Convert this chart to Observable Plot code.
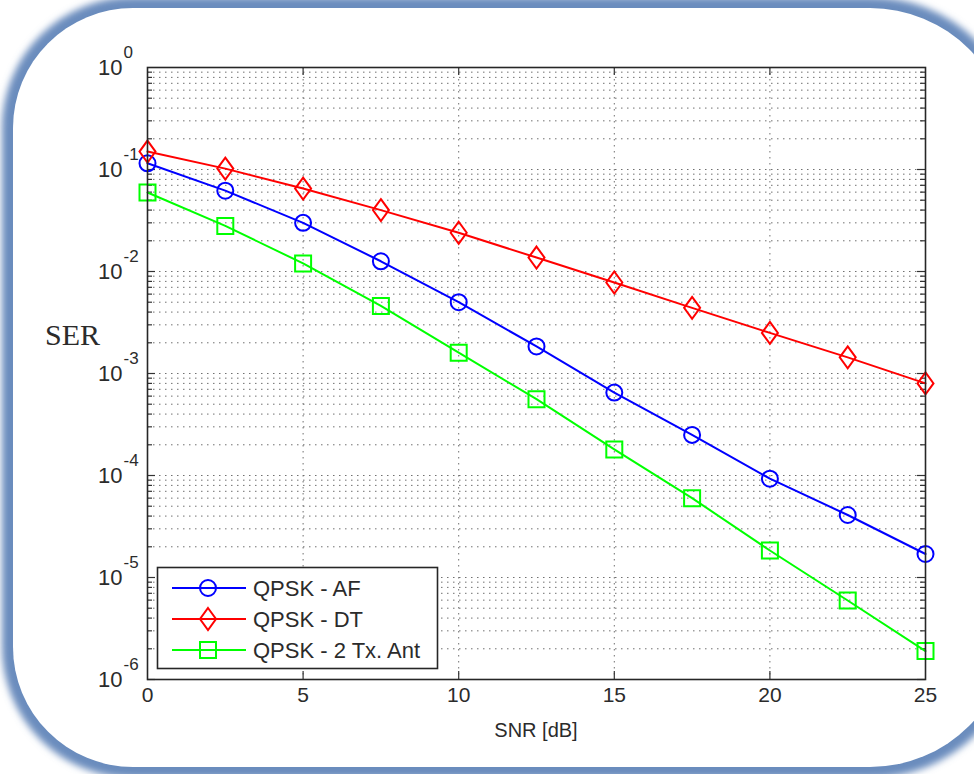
<!DOCTYPE html>
<html>
<head>
<meta charset="utf-8">
<script src="https://cdn.jsdelivr.net/npm/d3@7"></script>
<script src="https://cdn.jsdelivr.net/npm/@observablehq/plot@0.6"></script>
<style>
  html, body { margin: 0; padding: 0; background: #ffffff; overflow: hidden; }
  #page { position: relative; width: 974px; height: 774px; overflow: hidden; background: #ffffff; }
  #bg, #chart, #legend { position: absolute; left: 0; top: 0; }
  .lab { position: absolute; color: #2b2b2b; white-space: nowrap; }
  #xlab { left: 0; width: 1072px; top: 719px; text-align: center; font: 20px "Liberation Sans", Arial, sans-serif; }
  #ylab { left: 45px; top: 318px; font: 30px "Liberation Serif", "Times New Roman", serif; }
</style>
</head>
<body>
<div id="page"></div>
<script>
// ---- data ----
const snr = [0, 2.5, 5, 7.5, 10, 12.5, 15, 17.5, 20, 22.5, 25];
const serAF = [0.115, 0.062, 0.030, 0.0126, 0.0050, 0.00184, 6.5e-4, 2.5e-4, 9.3e-5, 4.1e-5, 1.7e-5];
const serDT = [0.15, 0.102, 0.065, 0.040, 0.024, 0.0137, 0.0078, 0.0044, 0.0025, 0.00144, 8.0e-4];
const serTx = [0.0595, 0.028, 0.012, 0.0046, 0.0016, 5.6e-4, 1.8e-4, 6.0e-5, 1.84e-5, 5.95e-6, 1.9e-6];
const seriesNames = ["QPSK - AF", "QPSK - DT", "QPSK - 2 Tx. Ant"];
const seriesColors = ["#0000ff", "#ff0000", "#00ff00"];
const xTicks = [0, 5, 10, 15, 20, 25];
const yExponents = [0, -1, -2, -3, -4, -5, -6];
const xLabel = "SNR [dB]";
const yLabel = "SER";

// ---- layout ----
const W = 974, H = 774;
const mL = 147, mR = 49, mT = 67, mB = 95;
const innerW = W - mL - mR, innerH = H - mT - mB;
const page = document.getElementById("page");

// decorative rounded frame (blue glowing border)
const bg = d3.select(page).append("svg").attr("id", "bg").attr("width", W).attr("height", H);
const flt = bg.append("defs").append("filter").attr("id", "glow").attr("x", "-10%").attr("y", "-10%").attr("width", "120%").attr("height", "120%");
flt.append("feGaussianBlur").attr("stdDeviation", 3.5);
function roundedPath(x0, y0, x1, y1, rl, rr) {
  const p = d3.path();
  p.moveTo(x0 + rl, y0);
  p.lineTo(x1 - rr, y0); p.arcTo(x1, y0, x1, y0 + rr, rr);
  p.lineTo(x1, y1 - rr); p.arcTo(x1, y1, x1 - rr, y1, rr);
  p.lineTo(x0 + rl, y1); p.arcTo(x0, y1, x0, y1 - rl, rl);
  p.lineTo(x0, y0 + rl); p.arcTo(x0, y0, x0 + rl, y0, rl);
  p.closePath();
  return p.toString();
}
const framePath = roundedPath(13, 8, 1010, 767, 120, 140);
bg.append("path").attr("d", framePath).attr("fill", "none").attr("stroke", "#6b8cbd").attr("stroke-width", 22).attr("filter", "url(#glow)");
bg.append("path").attr("d", framePath).attr("fill", "#ffffff");

const rows = (vals) => snr.map((s, i) => ({snr: s, ser: vals[i]}));
const dAF = rows(serAF), dDT = rows(serDT), dTx = rows(serTx);

// log grid positions (minor + major)
const gridY = [];
for (const e of yExponents) if (e < 0) for (let m = 1; m <= 9; m++) gridY.push(m * Math.pow(10, e));
const innerX = xTicks.filter(t => t > 0 && t < 25);

// custom MATLAB-like markers
const diamondSym = {draw(ctx) { ctx.moveTo(0, -11); ctx.lineTo(8, 0); ctx.lineTo(0, 11); ctx.lineTo(-8, 0); ctx.closePath(); }};
const squareSym = {draw(ctx) { ctx.moveTo(-8, -8); ctx.lineTo(8, -8); ctx.lineTo(8, 8); ctx.lineTo(-8, 8); ctx.closePath(); }};
const circleSym = {draw(ctx) { ctx.moveTo(8, 0); ctx.arc(0, 0, 8, 0, 2 * Math.PI); }};
const symbols = [circleSym, diamondSym, squareSym];

const gridStyle = {stroke: "#707070", strokeWidth: 1, strokeDasharray: "1.5,4.5"};
const tickStyle = {stroke: "#333", strokeWidth: 1.2};
const tickLen = (v) => (Math.abs(Math.log10(v) - Math.round(Math.log10(v))) < 1e-9 ? 8 : 5);

const chart = Plot.plot({
  width: W, height: H,
  marginLeft: mL, marginRight: mR, marginTop: mT, marginBottom: mB,
  style: {background: "transparent", fontFamily: "'Liberation Sans', Arial, sans-serif", overflow: "visible"},
  x: {domain: [0, 25], axis: null},
  y: {type: "log", domain: [1e-6, 1], axis: null},
  marks: [
    Plot.ruleY(gridY, {y: d => d, ...gridStyle}),
    Plot.ruleX(innerX, {x: d => d, ...gridStyle}),
    ...gridY.map(v => Plot.tickY([v], {y: d => d, insetRight: innerW - tickLen(v), ...tickStyle})),
    ...gridY.map(v => Plot.tickY([v], {y: d => d, insetLeft: innerW - tickLen(v), ...tickStyle})),
    Plot.tickX(innerX, {x: d => d, insetTop: innerH - 8, ...tickStyle}),
    Plot.tickX(innerX, {x: d => d, insetBottom: innerH - 8, ...tickStyle}),
    ...[dAF, dDT, dTx].map((d, i) => Plot.line(d, {x: "snr", y: "ser", stroke: seriesColors[i], strokeWidth: 2})),
    ...[dAF, dDT, dTx].map((d, i) => Plot.dot(d, {x: "snr", y: "ser", symbol: symbols[i], r: 8, stroke: seriesColors[i], fill: "none", strokeWidth: 2})),
    Plot.frame({stroke: "#262626", strokeWidth: 1.6}),
    Plot.text(yExponents, {y: e => Math.pow(10, e), frameAnchor: "left", text: () => "10", textAnchor: "end", dx: -25, fontSize: 22, fill: "#2b2b2b"}),
    Plot.text(yExponents, {y: e => Math.pow(10, e), frameAnchor: "left", text: e => String(e), textAnchor: "start", dx: -24, dy: -15, fontSize: 17, fill: "#2b2b2b"}),
    Plot.text(xTicks, {x: d => d, frameAnchor: "bottom", text: d => String(d), dy: 22, fontSize: 21, fill: "#2b2b2b"})
  ]
});
chart.id = "chart";
page.appendChild(chart);

const xl = document.createElement("div"); xl.className = "lab"; xl.id = "xlab"; xl.textContent = xLabel; page.appendChild(xl);
const yl = document.createElement("div"); yl.className = "lab"; yl.id = "ylab"; yl.textContent = yLabel; page.appendChild(yl);

const lg = d3.select(page).append("svg").attr("id", "legend").attr("width", W).attr("height", H);
lg.append("rect").attr("x", 157.5).attr("y", 567.5).attr("width", 280).attr("height", 101)
  .attr("fill", "#fff").attr("stroke", "#262626").attr("stroke-width", 1.6);
const legendY = [588, 619, 650];
seriesNames.forEach((name, i) => {
  const g = lg.append("g").attr("transform", `translate(0,${legendY[i]})`);
  g.append("line").attr("x1", 172).attr("x2", 246).attr("y1", 0).attr("y2", 0)
    .attr("stroke", seriesColors[i]).attr("stroke-width", 2);
  const p = d3.path(); symbols[i].draw(p);
  g.append("path").attr("d", p.toString()).attr("transform", "translate(208,0)")
    .attr("fill", "none").attr("stroke", seriesColors[i]).attr("stroke-width", 2);
  g.append("text").attr("x", 253).attr("y", 0).attr("dy", "0.36em").text(name)
    .attr("font-family", "'Liberation Sans', Arial, sans-serif").attr("font-size", 22).attr("fill", "#2b2b2b");
});
</script>
</body>
</html>
